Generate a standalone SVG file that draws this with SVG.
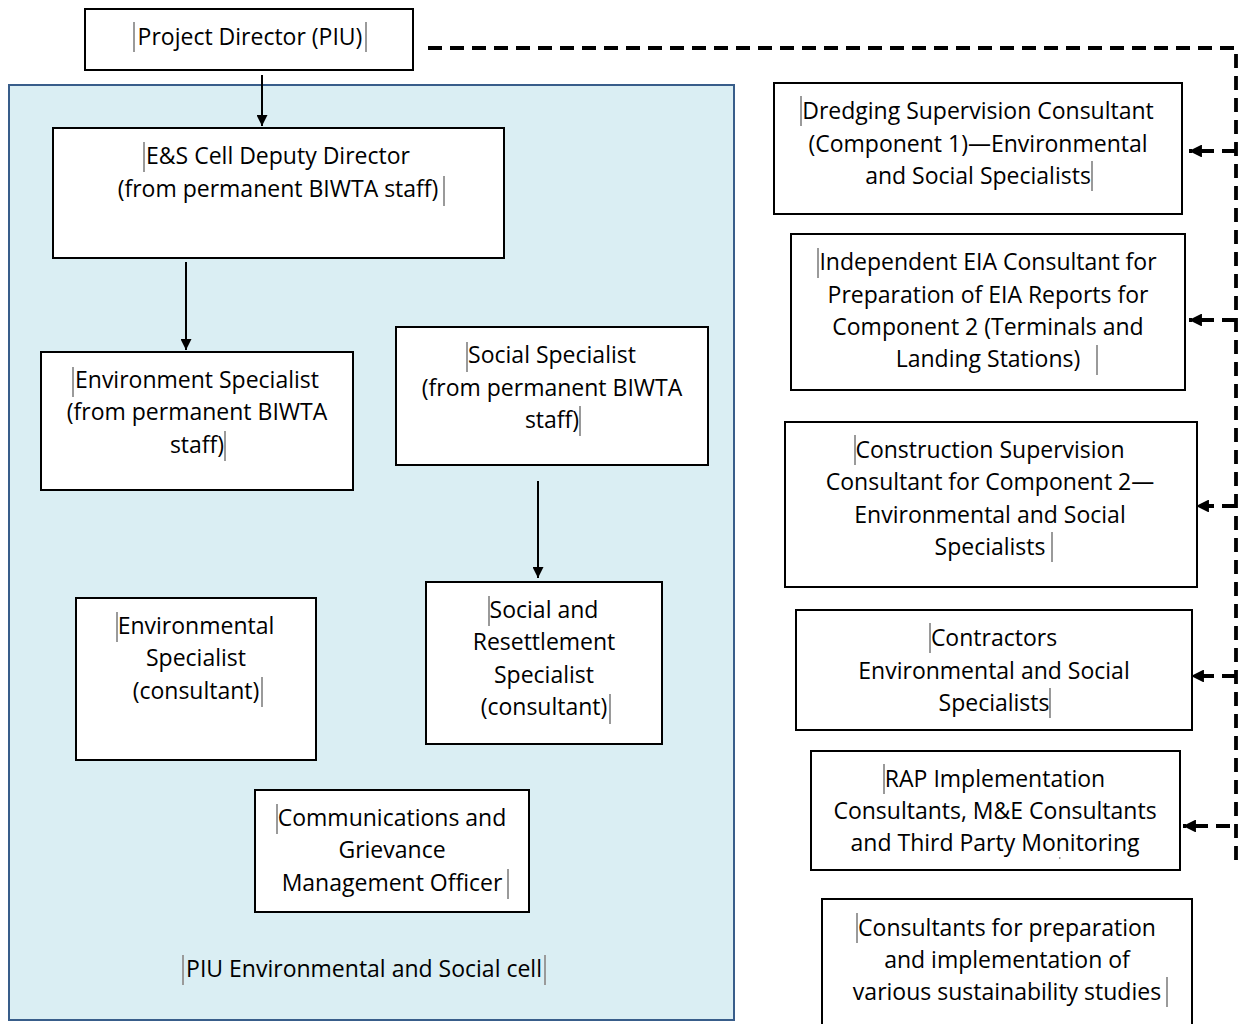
<svg xmlns="http://www.w3.org/2000/svg" width="1238" height="1024" viewBox="0 0 1238 1024">
<style>
.box{fill:#fff;stroke:#000;stroke-width:2}
.t{font-family:"Open Sans","Noto Sans","DejaVu Sans",sans-serif;font-size:23px;fill:#000;text-anchor:middle}
.mk{fill:#9a9a9a}
.solid{stroke:#000;stroke-width:2;fill:none}
.dash{stroke:#000;stroke-width:3.8;fill:none;stroke-dasharray:14 8}
</style>
<defs>
<marker id="ah" viewBox="0 0 10 10" refX="10" refY="5" markerWidth="7" markerHeight="5.5" markerUnits="strokeWidth" orient="auto">
<path d="M0,0 L10,5 L0,10 z" fill="#000"/>
</marker>
<marker id="ahd" viewBox="0 0 10 10" refX="10" refY="5" markerWidth="4" markerHeight="3.4" markerUnits="strokeWidth" orient="auto">
<path d="M0,0 L10,5 L0,10 z" fill="#000"/>
</marker>
</defs>
<rect width="1238" height="1024" fill="#fff"/>
<g id="piu-cell">
<rect x="9" y="85" width="725" height="935" fill="#DAEEF3" stroke="#385D8A" stroke-width="2"/>
<text class="t" x="364" y="977">PIU Environmental and Social cell</text>
<rect class="mk" x="182" y="955" width="2" height="30"/><rect class="mk" x="544" y="955" width="2" height="30"/>
</g>
<g id="connectors">
<line class="solid" x1="262" y1="75" x2="262" y2="126" marker-end="url(#ah)"/>
<line class="solid" x1="186" y1="262" x2="186" y2="350" marker-end="url(#ah)"/>
<line class="solid" x1="538" y1="481" x2="538" y2="578" marker-end="url(#ah)"/>
<polyline class="dash" points="428,48 1236,48 1236,862"/>
<line class="dash" x1="1236" y1="151" x2="1189" y2="151" marker-end="url(#ahd)"/>
<line class="dash" x1="1236" y1="320" x2="1189" y2="320" marker-end="url(#ahd)"/>
<line class="dash" x1="1236" y1="506" x2="1196" y2="506" marker-end="url(#ahd)"/>
<line class="dash" x1="1236" y1="676" x2="1191" y2="676" marker-end="url(#ahd)"/>
<line class="dash" x1="1230" y1="826" x2="1183" y2="826" marker-end="url(#ahd)"/>
</g>
<g id="project-director">
<rect class="box" x="85" y="9" width="328" height="61"/>
<text class="t" x="250" y="45">Project Director (PIU)</text>
<rect class="mk" x="133" y="22" width="2" height="30"/><rect class="mk" x="365" y="22" width="2" height="30"/>
</g>
<g id="es-deputy">
<rect class="box" x="53" y="128" width="451" height="130"/>
<text class="t" x="278" y="164">E&amp;S Cell Deputy Director</text>
<text class="t" x="278" y="197">(from permanent BIWTA staff)</text>
<rect class="mk" x="143" y="142" width="2" height="30"/><rect class="mk" x="443" y="176" width="2" height="30"/>
</g>
<g id="env-specialist">
<rect class="box" x="41" y="352" width="312" height="138"/>
<text class="t" x="197" y="388">Environment Specialist</text>
<text class="t" x="197" y="420">(from permanent BIWTA</text>
<text class="t" x="197" y="453">staff)</text>
<rect class="mk" x="72" y="367" width="2" height="30"/><rect class="mk" x="224" y="431" width="2" height="30"/>
</g>
<g id="social-specialist">
<rect class="box" x="396" y="327" width="312" height="138"/>
<text class="t" x="552" y="363">Social Specialist</text>
<text class="t" x="552" y="396">(from permanent BIWTA</text>
<text class="t" x="552" y="428">staff)</text>
<rect class="mk" x="466" y="342" width="2" height="30"/><rect class="mk" x="579" y="406" width="2" height="30"/>
</g>
<g id="env-consultant">
<rect class="box" x="76" y="598" width="240" height="162"/>
<text class="t" x="196" y="634">Environmental</text>
<text class="t" x="196" y="666">Specialist</text>
<text class="t" x="196" y="699">(consultant)</text>
<rect class="mk" x="116" y="612" width="2" height="30"/><rect class="mk" x="261" y="677" width="2" height="30"/>
</g>
<g id="social-resettlement">
<rect class="box" x="426" y="582" width="236" height="162"/>
<text class="t" x="544" y="618">Social and</text>
<text class="t" x="544" y="650">Resettlement</text>
<text class="t" x="544" y="683">Specialist</text>
<text class="t" x="544" y="715">(consultant)</text>
<rect class="mk" x="488" y="596" width="2" height="30"/><rect class="mk" x="609" y="694" width="2" height="30"/>
</g>
<g id="communications">
<rect class="box" x="255" y="790" width="274" height="122"/>
<text class="t" x="392" y="826">Communications and</text>
<text class="t" x="392" y="858">Grievance</text>
<text class="t" x="392" y="891">Management Officer</text>
<rect class="mk" x="276" y="804" width="2" height="30"/><rect class="mk" x="507" y="869" width="2" height="30"/>
</g>
<g id="dredging">
<rect class="box" x="774" y="83" width="408" height="131"/>
<text class="t" x="978" y="119">Dredging Supervision Consultant</text>
<text class="t" x="978" y="152">(Component 1)—Environmental</text>
<text class="t" x="978" y="184">and Social Specialists</text>
<rect class="mk" x="800" y="96" width="2" height="30"/><rect class="mk" x="1091" y="161" width="2" height="30"/>
</g>
<g id="eia-consultant">
<rect class="box" x="791" y="234" width="394" height="156"/>
<text class="t" x="988" y="270">Independent EIA Consultant for</text>
<text class="t" x="988" y="303">Preparation of EIA Reports for</text>
<text class="t" x="988" y="335">Component 2 (Terminals and</text>
<text class="t" x="988" y="367">Landing Stations)</text>
<rect class="mk" x="817" y="248" width="2" height="30"/><rect class="mk" x="1096" y="345" width="2" height="30"/>
</g>
<g id="construction">
<rect class="box" x="785" y="422" width="412" height="165"/>
<text class="t" x="990" y="458">Construction Supervision</text>
<text class="t" x="990" y="490">Consultant for Component 2—</text>
<text class="t" x="990" y="523">Environmental and Social</text>
<text class="t" x="990" y="555">Specialists</text>
<rect class="mk" x="854" y="435" width="2" height="30"/><rect class="mk" x="1051" y="532" width="2" height="30"/>
</g>
<g id="contractors">
<rect class="box" x="796" y="610" width="396" height="120"/>
<text class="t" x="994" y="646">Contractors</text>
<text class="t" x="994" y="679">Environmental and Social</text>
<text class="t" x="994" y="711">Specialists</text>
<rect class="mk" x="929" y="623" width="2" height="30"/><rect class="mk" x="1049" y="688" width="2" height="30"/>
</g>
<g id="rap">
<rect class="box" x="811" y="751" width="369" height="119"/>
<text class="t" x="995" y="787">RAP Implementation</text>
<text class="t" x="995" y="819">Consultants, M&amp;E Consultants</text>
<text class="t" x="995" y="851">and Third Party Monitoring</text>
<rect class="mk" x="883" y="764" width="2" height="30"/><rect class="mk" x="1059" y="857" width="1.5" height="2"/>
</g>
<g id="sustainability">
<rect class="box" x="822" y="899" width="370" height="130"/>
<text class="t" x="1007" y="936">Consultants for preparation</text>
<text class="t" x="1007" y="968">and implementation of</text>
<text class="t" x="1007" y="1000">various sustainability studies</text>
<rect class="mk" x="856" y="913" width="2" height="30"/><rect class="mk" x="1166" y="977" width="2" height="30"/>
</g>
</svg>
